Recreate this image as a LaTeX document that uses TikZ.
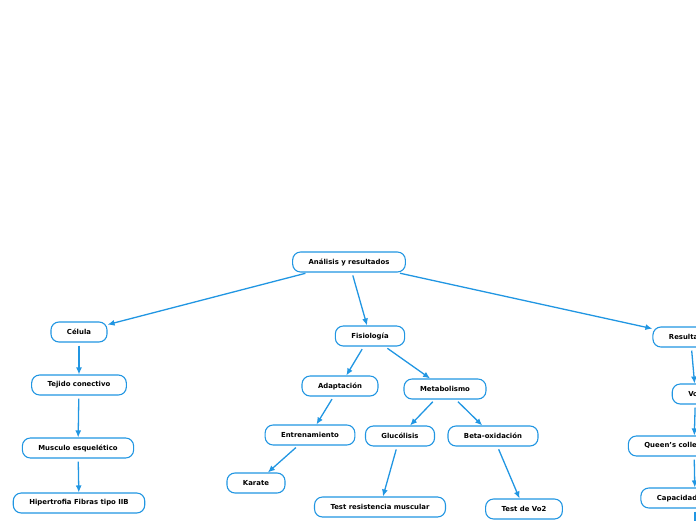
\documentclass[tikz,border=0pt]{standalone}
\usepackage{fontspec}
\setmainfont{DejaVu Sans}
\usetikzlibrary{arrows.meta}
\definecolor{mapblue}{RGB}{33,150,226}

\begin{document}
\begin{tikzpicture}[x=1pt,y=-1pt,
    topic/.style={draw=mapblue,line width=1.1pt,fill=white,rounded corners=8pt,
      minimum height=20pt,inner xsep=16pt,inner ysep=0pt,
      font=\fontsize{6.9}{8}\selectfont\bfseries},
    link/.style={draw=mapblue,line width=1.3pt,shorten <=3pt,
      -{Latex[length=7pt,width=6pt]}}]

  \useasboundingbox (0,0) rectangle (696,520);
  \clip (0,0) rectangle (696,520);

  \node[topic] (root) at (349,262) {Análisis y resultados};

  \node[topic] (celula) at (79,332) {Célula};
  \node[topic] (tejido) at (79,385) {Tejido conectivo};
  \node[topic] (musculo) at (78,448) {Musculo esquelético};
  \node[topic] (hiper) at (79,503) {Hipertrofia Fibras tipo IIB};

  \node[topic] (fisio) at (370,336) {Fisiología};
  \node[topic] (adapt) at (340,386) {Adaptación};
  \node[topic] (metab) at (445,389) {Metabolismo};
  \node[topic] (entren) at (310,435) {Entrenamiento};
  \node[topic] (karate) at (256,483) {Karate};
  \node[topic] (gluco) at (400,436) {Glucólisis};
  \node[topic] (beta) at (493,436) {Beta-oxidación};
  \node[topic] (testres) at (380,507) {Test resistencia muscular};
  \node[topic] (testvo) at (524,509) {Test de Vo2};

  \node[topic] (result) at (690.5,337) {Resultados};
  \node[topic] (vo) at (695.5,394) {Vo2};
  \node[topic] (queens) at (694,446) {Queen's college step test};
  \node[topic] (capac) at (695,498) {Capacidad aeróbica};
  \coordinate (below) at (695,560);

  \draw[link] (root) -- (celula);
  \draw[link] (root) -- (fisio);
  \draw[link] (root) -- (result);

  \draw[link] (celula) -- (tejido);
  \draw[link] (tejido) -- (musculo);
  \draw[link] (musculo) -- (hiper);

  \draw[link] (fisio) -- (adapt);
  \draw[link] (fisio) -- (metab);
  \draw[link] (adapt) -- (entren);
  \draw[link] (entren) -- (karate);
  \draw[link] (metab) -- (gluco);
  \draw[link] (metab) -- (beta);
  \draw[link] (gluco) -- (testres);
  \draw[link] (beta) -- (testvo);

  \draw[link] (result) -- (vo);
  \draw[link] (vo) -- (queens);
  \draw[link] (queens) -- (capac);
  \draw[link] (capac) -- (below);

\end{tikzpicture}
\end{document}
